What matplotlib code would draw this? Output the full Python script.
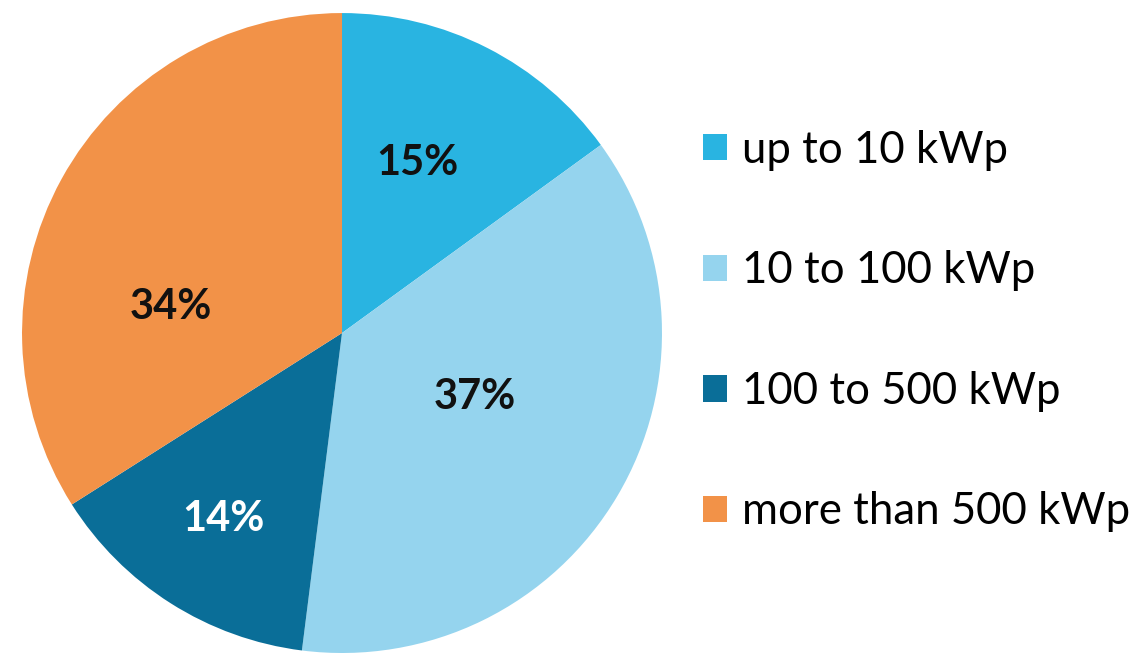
import numpy as np
import matplotlib
matplotlib.use("Agg")
import matplotlib.pyplot as plt
from matplotlib.patches import Patch

plt.rcParams['font.family'] = ['Lato', 'DejaVu Sans']

# data
categories = ['up to 10 kWp', '10 to 100 kWp', '100 to 500 kWp', 'more than 500 kWp']
shares = [15, 37, 14, 34]
colors = ['#29B4E1', '#95D4EE', '#0A6E98', '#F29248']
label_colors = ['#111111', '#111111', '#FFFFFF', '#111111']
# label placement: radial distance and angle tweak per wedge
label_dist = [0.58, 0.46, 0.69, 0.54]
label_turn = [3, 5, 0, 20]

fig = plt.figure(figsize=(11.45, 6.53), dpi=100)
ax = fig.add_axes([0.0192, 0.0, 0.559, 0.980])

wedges, _ = ax.pie(shares, colors=colors, startangle=90, counterclock=False,
                   radius=1.0, wedgeprops=dict(linewidth=0))

for w, s, c, d, t in zip(wedges, shares, label_colors, label_dist, label_turn):
    mid = np.deg2rad((w.theta1 + w.theta2) / 2 + t)
    ax.text(d * np.cos(mid), d * np.sin(mid), '{}%'.format(s),
            ha='center', va='center', fontsize=30, fontweight='bold', color=c)

ax.set_xlim(-1, 1)
ax.set_ylim(-1, 1)
ax.set_aspect('equal')
ax.axis('off')

handles = [Patch(facecolor=c, edgecolor='none') for c in colors]
fig.legend(handles, categories, loc='center left', bbox_to_anchor=(703 / 1145, 1 - 331 / 653),
           frameon=False, fontsize=31.5, handlelength=0.55, handleheight=0.55,
           handletextpad=0.33, labelspacing=1.82, borderpad=0, borderaxespad=0)

fig.savefig('out.png', dpi=100)
